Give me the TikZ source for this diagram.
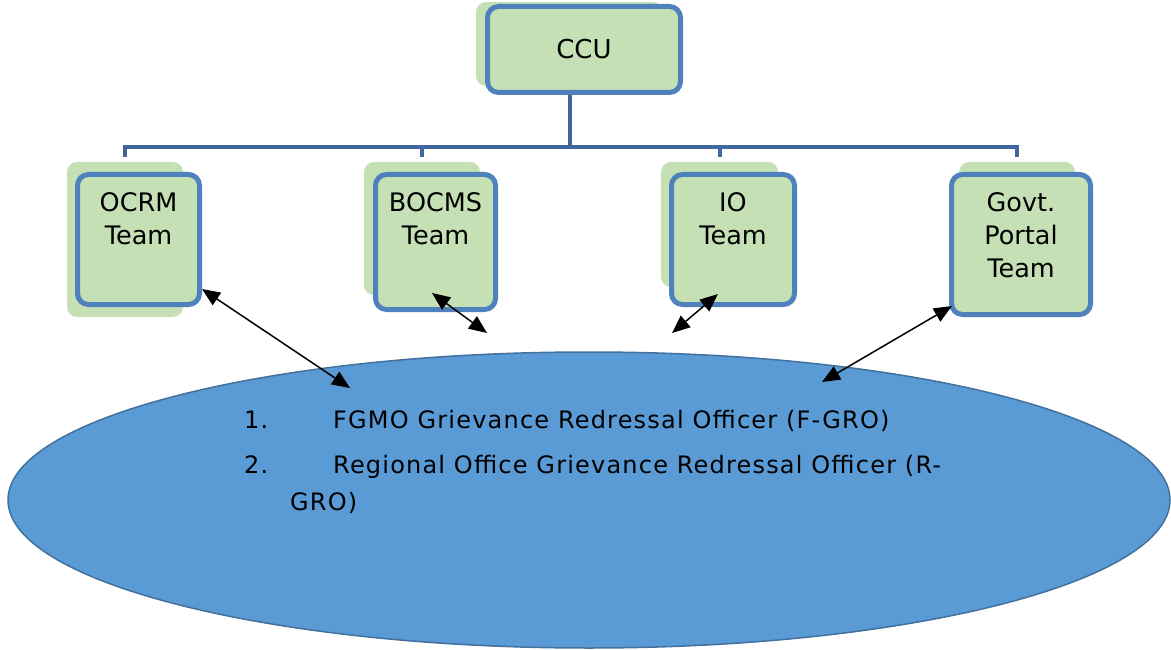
\documentclass[tikz,border=0pt]{standalone}
\usepackage{fontspec}
\setmainfont{DejaVu Sans}
\newfontfamily\listfont{DejaVu Sans}[LetterSpace=5]
\usetikzlibrary{arrows.meta,positioning,shapes.geometric}

\definecolor{boxgreen}{RGB}{197,224,180}
\definecolor{boxblue}{RGB}{79,129,189}
\definecolor{busblue}{RGB}{65,104,158}
\definecolor{ovalblue}{RGB}{91,155,213}
\definecolor{ovalline}{RGB}{65,113,156}

\tikzset{
    backbox/.style={fill=boxgreen, rounded corners=10pt, inner sep=0pt},
    teambox/.style={draw=boxblue, fill=boxgreen, line width=5pt, rounded corners=11pt, inner sep=0pt},
    teamtext/.style={align=center, anchor=north, inner sep=0pt, font=\fontsize{25.5}{33}\selectfont},
    listtext/.style={anchor=base west, inner sep=0pt, font=\listfont\fontsize{24}{30}\selectfont},
    busline/.style={draw=busblue, line width=4pt},
    link/.style={{Triangle[length=18pt,width=15pt]}-{Triangle[length=18pt,width=15pt]}, line width=1.5pt},
}

\begin{document}
\begin{tikzpicture}[x=1pt, y=-1pt]
    \useasboundingbox (0,0) rectangle (1171,650);

    % top unit
    \node[backbox, minimum width=187pt, minimum height=84pt] (ccubg) at (569.5,44) {};
    \node[teambox, minimum width=193pt, minimum height=86pt, font=\fontsize{26}{30}\selectfont] (ccu) at (584,49.5) {CCU};

    % teams
    \foreach \id/\bx/\by/\bw/\bh/\mx/\my/\mw/\mh/\txt in {
        ocrm/125/239.5/116/155/138.5/239.5/122/130/{OCRM\\Team},
        bocms/422/228.5/116/133/435.5/242/120/135/{BOCMS\\Team},
        io/719.5/224.5/117/125/733/239.5/123/130/{IO\\Team},
        govt/1017/231/116/138/1021/244.5/139/140/{Govt.\\Portal\\Team}} {
        \node[backbox, minimum width=\bw*1pt, minimum height=\bh*1pt] (\id bg) at (\bx,\by) {};
        \node[teambox, minimum width=\mw*1pt, minimum height=\mh*1pt] (\id) at (\mx,\my) {};
        \node[teamtext] (\id txt) at ([yshift=-20pt]\id.north) {\txt};
    }

    % tree lines
    \coordinate (bus) at (0,147);
    \coordinate (drop) at (0,157);
    \draw[busline] (ccubg |- ccu.south) -- (ccubg |- bus);
    \draw[busline] (ocrmbg |- drop) -- (ocrmbg |- bus) -- (govtbg |- bus) -- (govtbg |- drop);
    \foreach \t in {bocmsbg, iobg} {
        \draw[busline] (\t |- bus) -- (\t |- drop);
    }

    % officers
    \node[ellipse, draw=ovalline, fill=ovalblue, line width=1.5pt, minimum width=1162pt, minimum height=296pt, inner sep=0pt] (gro) at (589,500) {};
    \node[listtext] (num1) at (244,428) {1.};
    \node[listtext] (fgro) at (333,428) {FGMO Grievance Redressal Officer (F-GRO)};
    \node[listtext] (num2) at (244,473) {2.};
    \node[listtext] (rgro) at (333,473) {Regional Office Grievance Redressal Officer (R-};
    \node[listtext] (rgrob) at (290,510) {GRO)};

    % links
    \coordinate (ocrmend) at (202,289);
    \coordinate (bocmsend) at (432,293);
    \coordinate (ioend) at (718,294);
    \coordinate (govtend) at (952,306);
    \coordinate (groa) at (350,388);
    \coordinate (grob) at (487,333);
    \coordinate (groc) at (672,333);
    \coordinate (grod) at (822,382);
    \draw[link] (ocrmend) -- (groa);
    \draw[link] (bocmsend) -- (grob);
    \draw[link] (ioend) -- (groc);
    \draw[link] (govtend) -- (grod);
\end{tikzpicture}
\end{document}
